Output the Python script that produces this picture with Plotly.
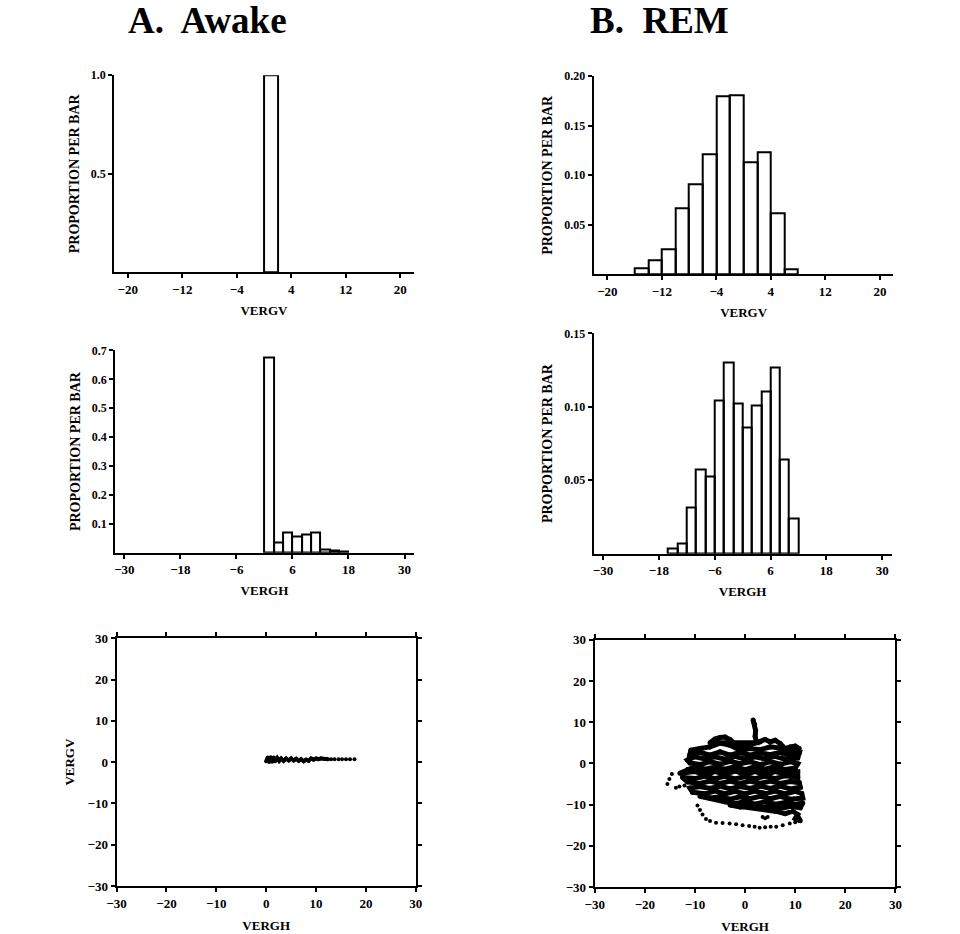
import plotly.graph_objects as go

# ---------------- data ----------------
# Awake VERGV histogram (bin left edges, bin width 2)
awake_v_bins = [0]
awake_v_prop = [1.0]
# REM VERGV histogram
rem_v_bins = [-16, -14, -12, -10, -8, -6, -4, -2, 0, 2, 4, 6]
rem_v_prop = [0.0067, 0.0145, 0.0256, 0.0667, 0.0912, 0.1215, 0.1795, 0.181, 0.1128, 0.1229, 0.0616, 0.005]
# Awake VERGH histogram
awake_h_bins = [0, 2, 4, 6, 8, 10, 12, 14, 16]
awake_h_prop = [0.676, 0.035, 0.069, 0.056, 0.063, 0.071, 0.012, 0.006, 0.005]
# REM VERGH histogram
rem_h_bins = [-16, -14, -12, -10, -8, -6, -4, -2, 0, 2, 4, 6, 8, 10]
rem_h_prop = [0.0038, 0.0068, 0.0314, 0.0577, 0.0527, 0.1045, 0.1305, 0.1023, 0.0857, 0.1007, 0.1106, 0.1271, 0.064, 0.0242]
bin_width = 2

# Awake scatter (VERGH, VERGV) - dense trace and sparse dots
awake_trace_h = [0, 0.3, 0.6, 0.9, 1.2, 1.5, 1.8, 2.2, 2.6, 3.0, 3.5, 4.0, 4.5, 5.0, 5.5, 6.0, 6.5, 7.0,
                 7.5, 8.0, 8.5, 9.0, 9.5, 10.0, 10.5, 11.0, 11.5, 12.0, 12.4]
awake_trace_v = [0.2, 1.1, 0.0, 1.2, 0.1, 1.1, 0.2, 1.0, 0.3, 0.9, 0.3, 0.9, 0.4, 0.9, 0.4, 0.8, 0.3, 0.7,
                 0.2, 0.6, 0.3, 0.9, 0.6, 0.9, 0.7, 0.9, 0.8, 0.8, 0.7]
awake_dots_h = [13.0, 13.7, 14.5, 15.2, 16.0, 16.8, 17.7]
awake_dots_v = [0.7, 0.7, 0.7, 0.7, 0.7, 0.7, 0.7]

# REM scatter trajectory (VERGH, VERGV)
rem_trace = [
    (1.6, 10.5), (1.9, 9.5), (2.1, 8.0), (2.0, 6.5), (2.3, 5.0),
    (-7, 5.0), (-6, 5.9), (-5, 6.3), (-4, 6.4), (-3, 5.8),
    (-2, 4.6), (0, 4.0), (1, 4.4), (3, 5.2), (4, 5.8), (5, 5.2), (6, 5.6), (7, 4.8),
    (8, 3.6), (9, 4.0), (10, 4.2), (10.8, 3.6), (9, 3.0), (7, 3.7), (5, 4.0), (3, 3.3), (1, 3.6),
    (-1, 3.2), (-3, 4.4), (-5, 4.9), (-7, 4.0), (-9, 3.6), (-10.8, 3.2),
    (-11, 2.2), (-9, 2.7), (-7, 2.0), (-5, 2.8), (-3, 2.0), (-1, 2.7), (1, 2.0), (3, 2.6), (5, 2.1),
    (7, 2.7), (9, 2.0), (10.8, 2.5),
    (10.5, 1.3), (8, 1.0), (6, 1.7), (4, 1.1), (2, 1.6), (0, 1.0), (-2, 1.7), (-4, 1.0), (-6, 1.6),
    (-8, 1.1), (-10, 1.6), (-11.5, 0.8),
    (-11, 0.1), (-9, -0.3), (-7, 0.4), (-5, -0.2), (-3, 0.5), (-1, -0.1), (1, 0.4), (3, -0.3), (5, 0.4),
    (7, -0.2), (9, 0.4), (10.5, -0.1),
    (10, -1.1), (8, -1.5), (6, -0.8), (4, -1.4), (2, -0.8), (0, -1.5), (-2, -0.8), (-4, -1.4), (-6, -0.9),
    (-8, -1.4), (-10, -0.8), (-11.5, -1.5),
    (-13, -2.4), (-10, -2.0), (-8, -2.7), (-6, -2.0), (-4, -2.6), (-2, -1.9), (0, -2.6), (2, -2.0),
    (4, -2.7), (6, -2.0), (8, -2.6), (10.5, -2.1),
    (10.5, -3.4), (8, -3.0), (6, -3.7), (4, -3.1), (2, -3.7), (0, -3.2), (-2, -3.8), (-4, -3.1),
    (-6, -3.7), (-8, -3.1), (-10, -3.7), (-12.5, -3.4),
    (-11.5, -4.5), (-9, -4.9), (-7, -4.3), (-5, -4.9), (-3, -4.3), (-1, -4.9), (1, -4.3), (3, -4.9),
    (5, -4.3), (7, -4.9), (9, -4.4), (10.8, -4.7),
    (11, -5.8), (9, -6.2), (7, -5.5), (5, -6.1), (3, -5.5), (1, -6.1), (-1, -5.6), (-3, -6.2),
    (-5, -5.5), (-7, -6.1), (-9, -5.6), (-11, -6.0),
    (-10.5, -7.0), (-8, -7.4), (-6, -6.7), (-4, -7.4), (-2, -6.8), (0, -7.4), (2, -6.7), (4, -7.3),
    (6, -6.7), (8, -7.4), (10, -6.8), (11.3, -7.3),
    (11.5, -8.4), (9, -8.7), (7, -8.0), (5, -8.6), (3, -8.0), (1, -8.6), (-1, -8.1), (-3, -8.7),
    (-5, -8.1), (-7, -8.4), (-9, -8.0),
    (-4, -9.3), (-2, -9.8), (0, -9.3), (2, -9.9), (4, -9.3), (6, -9.9), (8, -9.5), (10, -10.0),
    (11.5, -9.6),
    (11, -10.8), (9, -10.4), (7, -11.0), (5, -10.4), (3, -10.8), (1, -10.3), (-1, -10.6), (-3, -10.1),
    (6, -11.6), (8, -12.2), (9.5, -11.6), (10.5, -12.4), (10, -13.4), (11, -13.9), (10.5, -12.9),
]
rem_trace_h = [p[0] for p in rem_trace]
rem_trace_v = [p[1] for p in rem_trace]
rem_dots = [
    (-15.5, -5.0), (-15.1, -3.8), (-14.6, -2.6), (-13.8, -5.9), (-13.1, -5.6), (-12.1, -5.4),
    (-9.5, -10.2), (-9.0, -11.3), (-8.5, -12.4), (-7.8, -13.5), (-7.0, -14.0), (-5.8, -14.4),
    (-4.5, -14.5), (-3.1, -14.6), (-1.8, -14.8), (-0.5, -15.0), (0.8, -15.2), (1.9, -15.4),
    (2.9, -15.6), (4.0, -15.5), (5.1, -15.4), (6.2, -15.4), (7.5, -15.0), (8.9, -14.6),
    (10.0, -14.3), (10.9, -14.0), (3.5, -13.0), (4.0, -13.3), (4.5, -13.0),
]
rem_dots_h = [p[0] for p in rem_dots]
rem_dots_v = [p[1] for p in rem_dots]

# tick labels
v_ticks = [-20, -12, -4, 4, 12, 20]
h_ticks = [-30, -18, -6, 6, 18, 30]
sc_ticks = [-30, -20, -10, 0, 10, 20, 30]
awake_v_yticks = [0.5, 1.0]
awake_v_ytext = ["0.5", "1.0"]
rem_v_yticks = [0.05, 0.10, 0.15, 0.20]
rem_v_ytext = ["0.05", "0.10", "0.15", "0.20"]
awake_h_yticks = [0.1, 0.2, 0.3, 0.4, 0.5, 0.6, 0.7]
awake_h_ytext = ["0.1", "0.2", "0.3", "0.4", "0.5", "0.6", "0.7"]
rem_h_yticks = [0.05, 0.10, 0.15]
rem_h_ytext = ["0.05", "0.10", "0.15"]

# ---------------- figure ----------------
W, H = 960, 934
# the captured page shows the figure offset by the page margin and slightly scaled;
# positions below are given in screen pixels and converted to figure pixels
SCALE, OFF = 0.983, 8
SERIF = "Liberation Serif, Times New Roman, serif"


def fx(p):
    return (p / SCALE - OFF) / W


def fy(p):
    return 1 - (p / SCALE - OFF) / H


def xd(a, b):
    return [fx(a), fx(b)]


def yd(top, bottom):
    return [fy(bottom), fy(top)]


def centers(bins):
    return [b + bin_width / 2 for b in bins]


fig = go.Figure()

bar_style = dict(marker=dict(color="rgba(0,0,0,0)", line=dict(color="black", width=2)),
                 width=bin_width, showlegend=False, hoverinfo="skip")

fig.add_trace(go.Bar(x=centers(awake_v_bins), y=awake_v_prop, xaxis="x", yaxis="y", **bar_style))
fig.add_trace(go.Bar(x=centers(rem_v_bins), y=rem_v_prop, xaxis="x2", yaxis="y2", **bar_style))
fig.add_trace(go.Bar(x=centers(awake_h_bins), y=awake_h_prop, xaxis="x3", yaxis="y3", **bar_style))
fig.add_trace(go.Bar(x=centers(rem_h_bins), y=rem_h_prop, xaxis="x4", yaxis="y4", **bar_style))

fig.add_trace(go.Scatter(x=awake_trace_h, y=awake_trace_v, xaxis="x5", yaxis="y5", mode="lines+markers",
                         line=dict(color="black", width=4), marker=dict(color="black", size=4),
                         showlegend=False))
fig.add_trace(go.Scatter(x=awake_dots_h, y=awake_dots_v, xaxis="x5", yaxis="y5", mode="markers",
                         marker=dict(color="black", size=4), showlegend=False))
fig.add_trace(go.Scatter(x=rem_trace_h, y=rem_trace_v, xaxis="x6", yaxis="y6", mode="lines+markers",
                         line=dict(color="black", width=5), marker=dict(color="black", size=5),
                         showlegend=False))
fig.add_trace(go.Scatter(x=rem_dots_h, y=rem_dots_v, xaxis="x6", yaxis="y6", mode="markers",
                         marker=dict(color="black", size=4), showlegend=False))

ax_common = dict(showline=True, linecolor="black", linewidth=2, ticks="outside", ticklen=4,
                 tickwidth=1.5, tickcolor="black", showgrid=False, zeroline=False,
                 tickfont=dict(family=SERIF, size=13, color="black", weight="bold"))
ytick_font = dict(family=SERIF, size=12, color="black", weight="bold")
title_font = dict(family=SERIF, size=13, color="black")
ytitle_font = dict(family=SERIF, size=14, color="black")

layout = dict(
    width=W, height=H, margin=dict(l=0, r=0, t=0, b=0),
    paper_bgcolor="white", plot_bgcolor="rgba(0,0,0,0)", bargap=0, showlegend=False,
    xaxis=dict(ax_common, domain=xd(112, 412), range=[-22, 22], tickvals=v_ticks, anchor="y",
               title=dict(text="<b>VERGV</b>", font=title_font, standoff=10)),
    yaxis=dict(ax_common, domain=yd(76, 273), range=[0, 1.0], tickvals=awake_v_yticks, ticktext=awake_v_ytext,
               tickfont=ytick_font, anchor="x",
               title=dict(text="<b>PROPORTION PER BAR</b>", font=ytitle_font, standoff=8)),
    xaxis2=dict(ax_common, domain=xd(592, 892), range=[-22, 22], tickvals=v_ticks, anchor="y2",
                title=dict(text="<b>VERGV</b>", font=title_font, standoff=10)),
    yaxis2=dict(ax_common, domain=yd(77, 275), range=[0, 0.2], tickvals=rem_v_yticks, ticktext=rem_v_ytext,
                tickfont=ytick_font, anchor="x2",
                title=dict(text="<b>PROPORTION PER BAR</b>", font=ytitle_font, standoff=8)),
    xaxis3=dict(ax_common, domain=xd(113, 412), range=[-32, 32], tickvals=h_ticks, anchor="y3",
                title=dict(text="<b>VERGH</b>", font=title_font, standoff=10)),
    yaxis3=dict(ax_common, domain=yd(351, 553), range=[0, 0.7], tickvals=awake_h_yticks, ticktext=awake_h_ytext,
                tickfont=ytick_font, anchor="x3",
                title=dict(text="<b>PROPORTION PER BAR</b>", font=ytitle_font, standoff=8)),
    xaxis4=dict(ax_common, domain=xd(592, 890), range=[-32, 32], tickvals=h_ticks, anchor="y4",
                title=dict(text="<b>VERGH</b>", font=title_font, standoff=10)),
    yaxis4=dict(ax_common, domain=yd(334, 554), range=[0, 0.15], tickvals=rem_h_yticks, ticktext=rem_h_ytext,
                tickfont=ytick_font, anchor="x4",
                title=dict(text="<b>PROPORTION PER BAR</b>", font=ytitle_font, standoff=8)),
    xaxis5=dict(ax_common, domain=xd(114.5, 414), range=[-30, 30], tickvals=sc_ticks, anchor="y5", mirror="ticks",
                title=dict(text="<b>VERGH</b>", font=title_font, standoff=11)),
    yaxis5=dict(ax_common, domain=yd(638.5, 886), range=[-30, 30], tickvals=sc_ticks, anchor="x5", mirror="ticks",
                title=dict(text="<b>VERGV</b>", font=title_font, standoff=10)),
    xaxis6=dict(ax_common, domain=xd(593, 894), range=[-30, 30], tickvals=sc_ticks, anchor="y6", mirror="ticks",
                title=dict(text="<b>VERGH</b>", font=title_font, standoff=11)),
    yaxis6=dict(ax_common, domain=yd(640, 887), range=[-30, 30], tickvals=sc_ticks, anchor="x6", mirror="ticks"),
    annotations=[
        dict(text="<b>A.  Awake</b>", x=fx(206), y=fy(21), xref="paper", yref="paper", showarrow=False,
             xanchor="center", yanchor="middle", font=dict(family=SERIF, size=37, color="black")),
        dict(text="<b>B.  REM</b>", x=fx(658), y=fy(21), xref="paper", yref="paper", showarrow=False,
             xanchor="center", yanchor="middle", font=dict(family=SERIF, size=37, color="black")),
    ],
)

fig.update_layout(**layout)
fig.write_html("out.html")
